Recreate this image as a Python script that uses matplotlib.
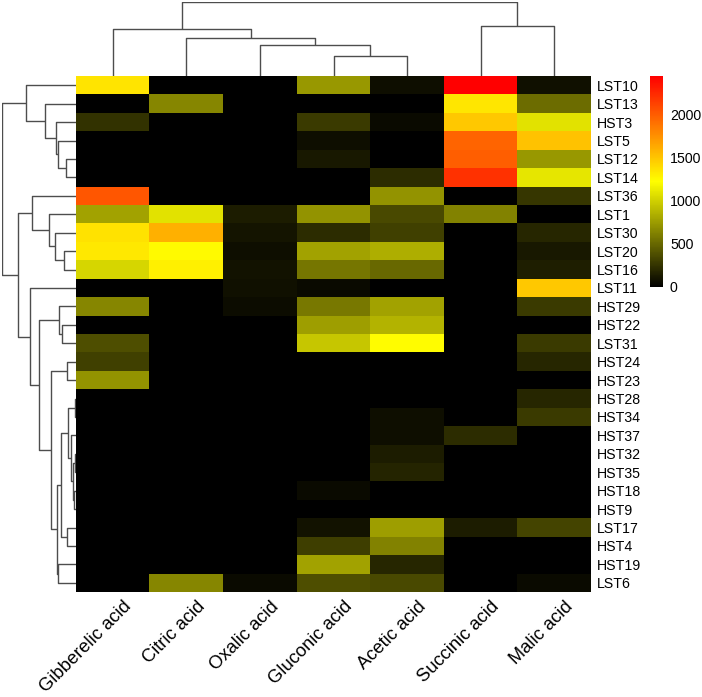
import numpy as np
import matplotlib
matplotlib.use("Agg")
import matplotlib.pyplot as plt
from matplotlib.colors import LinearSegmentedColormap
from matplotlib.transforms import offset_copy

plt.rcParams['font.family'] = ['Liberation Sans', 'DejaVu Sans']

# --- 데이터 ---
acids = ["Gibberelic acid", "Citric acid", "Oxalic acid", "Gluconic acid",
         "Acetic acid", "Succinic acid", "Malic acid"]
strains = ["LST10", "LST13", "HST3", "LST5", "LST12", "LST14", "LST36", "LST1",
           "LST30", "LST20", "LST16", "LST11", "HST29", "HST22", "LST31", "HST24",
           "HST23", "HST28", "HST34", "HST37", "HST32", "HST35", "HST18", "HST9",
           "LST17", "HST4", "HST19", "LST6"]

gibberelic = [1350, 0, 240, 0, 0, 0, 2030, 780, 1360, 1330, 1020, 0, 645, 0,
              380, 310, 710, 0, 0, 0, 0, 0, 0, 0, 0, 0, 0, 0]
citric = [0, 640, 0, 0, 0, 0, 0, 1080, 1600, 1245, 1290, 0, 0, 0,
          0, 0, 0, 0, 0, 0, 0, 0, 0, 0, 0, 0, 0, 640]
oxalic = [0, 0, 0, 0, 0, 0, 0, 135, 100, 70, 90, 85, 60, 0,
          0, 0, 0, 0, 0, 0, 0, 0, 0, 0, 0, 0, 0, 50]
gluconic = [730, 0, 285, 70, 120, 0, 0, 710, 215, 780, 570, 50, 575, 760,
            950, 0, 0, 0, 0, 0, 0, 0, 50, 0, 95, 300, 780, 375]
acetic = [70, 0, 50, 0, 0, 210, 710, 355, 310, 830, 500, 0, 780, 860,
          1230, 0, 0, 0, 70, 70, 140, 180, 0, 0, 760, 620, 190, 355]
succinic = [2440, 1340, 1480, 1960, 1985, 2200, 0, 620, 0, 0, 0, 0, 0, 0,
            0, 0, 0, 0, 0, 210, 0, 0, 0, 0, 135, 0, 0, 0]
malic = [85, 520, 1080, 1510, 730, 1100, 260, 0, 190, 120, 145, 1480, 285, 0,
         285, 190, 0, 190, 285, 0, 0, 0, 0, 0, 330, 0, 0, 50]

# 클러스터 트리 (왼쪽 id, 오른쪽 id, 높이) - 잎은 0..n-1, 병합 노드는 n부터
col_merges = [(3, 4, 19.6), (2, 7, 31.2), (1, 8, 38.5), (0, 9, 47.5),
              (5, 6, 50.1), (10, 11, 74.0)]
row_merges = [(4, 5, 10.0), (3, 28, 17.7), (2, 29, 20.0), (1, 30, 31.0),
              (0, 31, 50.0), (9, 10, 12.0), (8, 33, 21.0), (7, 34, 26.7),
              (6, 35, 44.3), (13, 14, 14.3), (12, 37, 16.7), (15, 16, 9.3),
              (17, 18, 1.3), (20, 21, 1.5), (22, 23, 2.0), (41, 42, 3.3),
              (19, 43, 5.5), (40, 44, 7.7), (24, 25, 9.3), (45, 46, 15.3),
              (26, 27, 17.7), (47, 48, 19.0), (39, 49, 25.3), (38, 50, 36.7),
              (11, 51, 46.0), (36, 52, 58.7), (32, 53, 74.3)]

data = np.array([gibberelic, citric, oxalic, gluconic, acetic, succinic, malic]).T

W, H = 702, 697
fig = plt.figure(figsize=(W / 100, H / 100), dpi=100)


def px_axes(x0, y0, x1, y1):
    # 픽셀 좌표(위에서부터)로 축 생성
    return fig.add_axes([x0 / W, 1 - y1 / H, (x1 - x0) / W, (y1 - y0) / H])


def draw_dendro(ax, merges, n, orient):
    pos = {i: float(i) for i in range(n)}
    hgt = {i: 0.0 for i in range(n)}
    for k, (a, b, h) in enumerate(merges):
        pa, pb = pos[a], pos[b]
        ha, hb = hgt[a], hgt[b]
        xs = [pa, pa, pb, pb]
        ys = [ha, h, h, hb]
        if orient == "top":
            ax.plot(xs, ys, color="#4d4d4d", lw=1.0, solid_capstyle="butt")
        else:
            ax.plot(ys, xs, color="#4d4d4d", lw=1.0, solid_capstyle="butt")
        pos[n + k] = (pa + pb) / 2
        hgt[n + k] = h
    ax.set_axis_off()
    return hgt[n + len(merges) - 1]


cmap = LinearSegmentedColormap.from_list("bwr_like", ["black", "yellow", "red"])
vmax = data.max()

ax_hm = px_axes(76, 76, 591, 592)
im = ax_hm.imshow(data, aspect="auto", cmap=cmap, vmin=0, vmax=vmax,
                  interpolation="nearest")
for s in ax_hm.spines.values():
    s.set_visible(False)
ax_hm.set_xticks([])
ax_hm.yaxis.tick_right()
ax_hm.set_yticks(range(len(strains)))
ax_hm.set_yticklabels(strains, fontsize=10.2)
ax_hm.tick_params(axis="y", length=0, pad=4)

# 열 라벨 (45도 회전)
trans = offset_copy(ax_hm.transData, fig=fig, x=10, y=-6, units="dots")
for j, name in enumerate(acids):
    ax_hm.text(j, len(strains) - 0.5, name, transform=trans, rotation=45,
               ha="right", va="top", rotation_mode="anchor", fontsize=13.2)

ax_top = px_axes(76, 2, 591, 76)
root_c = draw_dendro(ax_top, col_merges, len(acids), "top")
ax_top.set_xlim(-0.5, len(acids) - 0.5)
ax_top.set_ylim(0, root_c)

ax_left = px_axes(2, 76, 76, 592)
root_r = draw_dendro(ax_left, row_merges, len(strains), "left")
ax_left.set_ylim(len(strains) - 0.5, -0.5)
ax_left.set_xlim(root_r, 0)

cax = px_axes(650, 76, 663, 287)
cb = fig.colorbar(im, cax=cax, ticks=[0, 500, 1000, 1500, 2000])
cb.outline.set_visible(False)
cb.ax.tick_params(length=0, labelsize=10.2, pad=5)

fig.savefig("out.png", dpi=100)
